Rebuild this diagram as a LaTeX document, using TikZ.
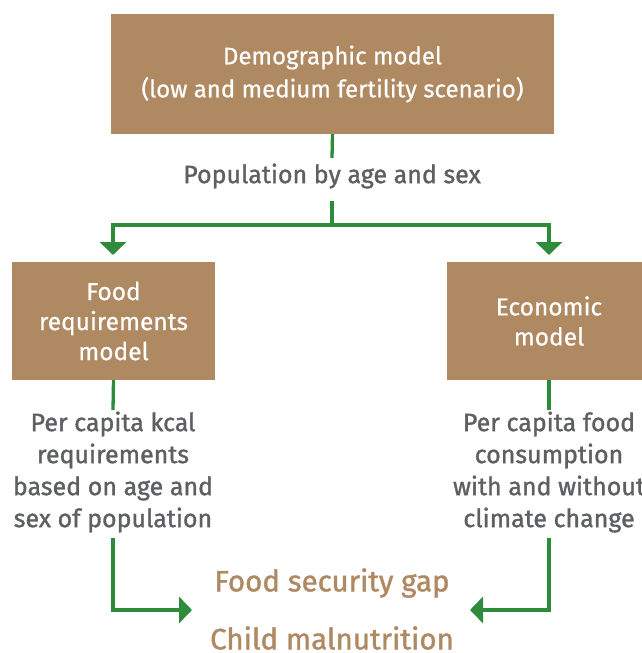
\documentclass[tikz,border=0pt]{standalone}
\usepackage{fontspec}
\setmainfont{Fira Sans}
\newfontfamily\lightbold[FakeBold=0.6]{Fira Sans}
\newfontfamily\heavy[FakeBold=1.3]{Fira Sans}
\usetikzlibrary{arrows.meta}
\definecolor{boxbrown}{HTML}{AF8961}
\definecolor{flowgreen}{HTML}{2E8B3A}
\definecolor{labelgray}{HTML}{5E5F61}
\tikzset{
  modelbox/.style={rectangle, fill=boxbrown, inner sep=0pt},
  boxtext/.style={text=white, align=center, font=\lightbold\fontsize{24.5}{30}\selectfont, inner sep=0pt},
  flowlabel/.style={text=labelgray, align=center, font=\heavy\fontsize{25}{32}\selectfont, inner sep=0pt},
  outcome/.style={text=boxbrown, font=\heavy\fontsize{29.5}{36}\selectfont, inner sep=0pt},
  flow/.style={draw=flowgreen, line width=3.3pt},
  flowarrow/.style={flow, -{Triangle[width=26pt,length=13pt]}},
}
\begin{document}
\begin{tikzpicture}[x=1pt,y=-1pt]
  \useasboundingbox (0,0) rectangle (642,653);

  % model boxes
  \node[modelbox, minimum width=443pt, minimum height=120pt] (demo) at (332.5,74) {};
  \node[boxtext, font=\lightbold\fontsize{24}{33}\selectfont] (demotext) at (332.5,74) {Demographic model\\(low and medium fertility scenario)};
  \node[modelbox, minimum width=203pt, minimum height=118pt] (food) at (113.5,321) {};
  \node[boxtext] (foodtext) at (113.5,321) {Food\\requirements\\model};
  \node[modelbox, minimum width=195pt, minimum height=118pt] (econ) at (544.5,321) {};
  \node[boxtext] (econtext) at (549,321) {Economic\\model};

  % flow labels
  \node[flowlabel] (pop) at (332,176) {Population by age and sex};
  \node[flowlabel] (kcal) at (113,472) {Per capita kcal\\requirements\\based on age and\\sex of population};
  \node[flowlabel] (cons) at (549,472) {Per capita food\\consumption\\with and without\\climate change};

  % outcomes
  \node[outcome] (gap) at (332,583) {Food security gap};
  \node[outcome] (malnut) at (332,638) {Child malnutrition};

  % connector anchor points
  \coordinate (popin) at (332,158);
  \coordinate (popout) at (332,201);
  \coordinate (split) at (332,225);
  \coordinate (foodin) at (113,255);
  \coordinate (econin) at (549,255);
  \coordinate (kcalin) at (113,410);
  \coordinate (kcalout) at (113,538);
  \coordinate (consin) at (549,410);
  \coordinate (consout) at (549,538);
  \coordinate (gapleft) at (192,610);
  \coordinate (gapright) at (470,610);

  % connectors
  \draw[flow] (demo.south) -- (popin);
  \draw[flow] (popout) -- (split);
  \draw[flowarrow] (split) -| (foodin);
  \draw[flowarrow] (split) -| (econin);
  \draw[flow] (food.south) -- (kcalin);
  \draw[flow] (econ.south -| consin) -- (consin);
  \draw[flowarrow] (kcalout) |- (gapleft);
  \draw[flowarrow] (consout) |- (gapright);
\end{tikzpicture}
\end{document}
